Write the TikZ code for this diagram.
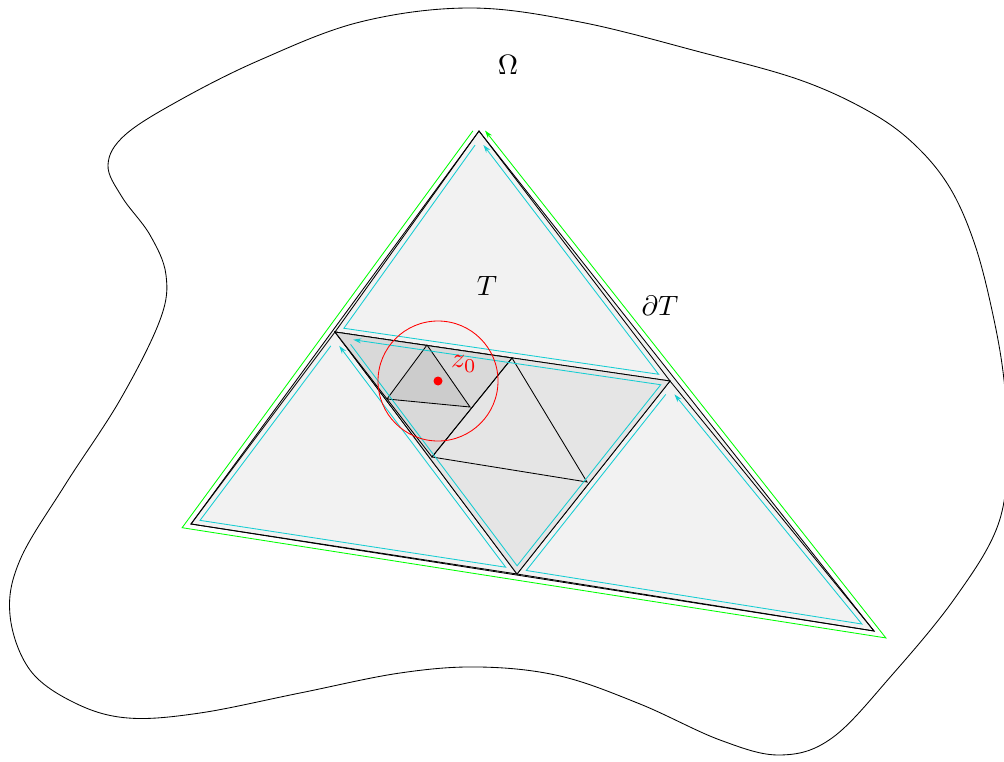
\documentclass[tikz,border=0pt]{standalone}
\usetikzlibrary{calc,arrows.meta}
% offset triangle #1 #2 #3 (given counterclockwise => inward) by #4, names #5x #5y #5z
\newcommand\offtri[5]{%
  \coordinate (#5ea) at ($(#1)!#4!90:(#2)$);
  \coordinate (#5eb) at ($(#2)!#4!-90:(#1)$);
  \coordinate (#5fa) at ($(#2)!#4!90:(#3)$);
  \coordinate (#5fb) at ($(#3)!#4!-90:(#2)$);
  \coordinate (#5ga) at ($(#3)!#4!90:(#1)$);
  \coordinate (#5gb) at ($(#1)!#4!-90:(#3)$);
  \coordinate (#5x) at (intersection of #5ga--#5gb and #5ea--#5eb);
  \coordinate (#5y) at (intersection of #5ea--#5eb and #5fa--#5fb);
  \coordinate (#5z) at (intersection of #5fa--#5fb and #5ga--#5gb);
}
\newcommand\looppath[3]{%
  \draw[#3] ($(#1x)!#2!(#1y)$) -- (#1y) -- (#1z) -- ($(#1x)!#2!(#1z)$);
}
\definecolor{cyanline}{RGB}{20,205,210}
\tikzset{
  edge/.style={draw=black,line width=0.85pt,line join=miter},
  orient/.style={line width=0.85pt,-{Stealth[length=8pt,width=5pt]}},
  lab/.style={scale=2.8,inner sep=0pt},
}
\begin{document}
\begin{tikzpicture}[x=1pt,y=-1pt]
\useasboundingbox (0,0) rectangle (1004,762);
% region Omega
\draw[line width=0.85pt] plot[smooth cycle,tension=0.6] coordinates {
 (470,8) (580,22) (700,52) (800,80) (870,112) (915,145) (950,188) (975,245)
 (993,315) (1004,380) (1008,450) (998,525) (955,598) (892,675) (832,738)
 (780,755) (720,740) (640,704) (560,676) (480,667) (400,673) (300,693)
 (200,713) (128,718) (75,703) (30,670) (10,615) (20,560) (65,485) (120,400)
 (160,320) (166,275) (150,235) (122,197) (108,165) (125,135) (180,100)
 (260,60) (360,22)};
% triangle vertices
\coordinate (A) at (479,131);
\coordinate (B) at (191,524);
\coordinate (C) at (874,631);
\coordinate (M1) at (335,332);
\coordinate (M2) at (670,381);
\coordinate (M3) at (517,574);
\coordinate (U1) at (512,358);
\coordinate (U2) at (432,457);
\coordinate (U3) at (587,482);
\coordinate (V1) at (427,345);
\coordinate (V2) at (387,399);
\coordinate (V3) at (470,407);
% T
\filldraw[edge,fill=black!5] (A) -- (B) -- (C) -- cycle;
\draw[edge] (A) -- (M1) -- (M2) -- cycle;
\draw[edge] (M1) -- (B) -- (M3) -- cycle;
\draw[edge] (M2) -- (M3) -- (C) -- cycle;
\filldraw[edge,fill=black!10] (M1) -- (M3) -- (M2) -- cycle;
\filldraw[edge,fill=black!15] (M1) -- (U2) -- (U1) -- cycle;
\draw[edge] (U1) -- (U2) -- (U3) -- cycle;
\filldraw[edge,fill=black!20] (V1) -- (V2) -- (V3) -- cycle;
% orientations
\offtri{A}{C}{B}{5pt}{g}
\offtri{A}{M1}{M2}{5pt}{p}
\offtri{M1}{B}{M3}{5pt}{q}
\offtri{M2}{M3}{C}{5pt}{r}
\offtri{M1}{M3}{M2}{5pt}{s}
\draw[orient,green] ($(gx)!10pt!(gz)$) -- (gz) -- (gy) -- ($(gx)!10pt!(gy)$);
\looppath{p}{7pt}{orient,cyanline}
\looppath{q}{7pt}{orient,cyanline}
\looppath{r}{7pt}{orient,cyanline}
\looppath{s}{7pt}{orient,cyanline}
% disc around z0
\coordinate (z) at (438,381);
\draw[red,line width=0.85pt] (z) circle[radius=60];
\fill[red] (z) circle[radius=4.5];
\node[lab,red] (zlab) at (464,364) {$z_0$};
\node[lab] (omega) at (508,65) {$\Omega$};
\node[lab] (Tlab) at (487,286) {$T$};
\node[lab] (dT) at (660,306) {$\partial T$};
\end{tikzpicture}
\end{document}
